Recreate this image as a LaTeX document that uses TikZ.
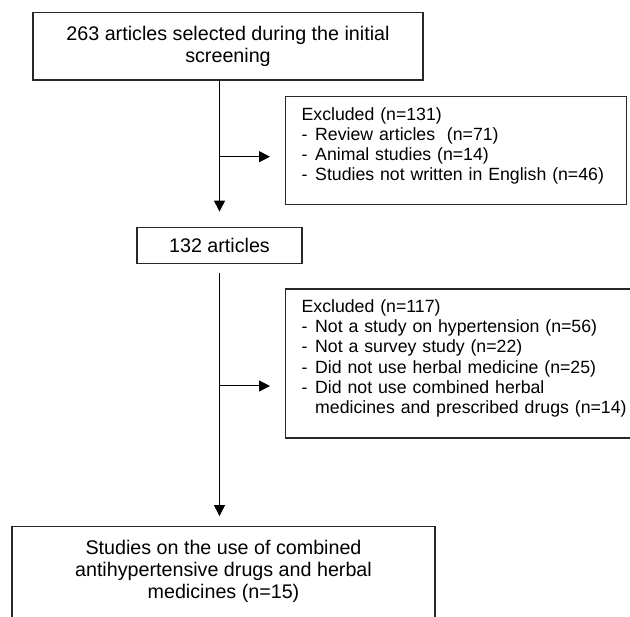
\documentclass[tikz,border=0pt]{standalone}
\usepackage{fontspec}
\setmainfont{Liberation Sans}
\usetikzlibrary{arrows.meta,positioning,calc}
\definecolor{boxline}{RGB}{40,40,40}
\tikzset{
  flowbox/.style={
    draw=boxline, line width=1.2pt,
    align=center, inner sep=0pt,
    font=\fontsize{19.7}{22}\selectfont
  },
  exclbox/.style={
    draw=boxline, line width=1.2pt,
    align=left, anchor=north west,
    inner xsep=16pt, inner ysep=0pt,
    font=\fontsize{17.7}{20.3}\selectfont
  },
  flowarrow/.style={-{Triangle[length=11pt,width=11pt]}, line width=1pt, draw=black}
}
\newcommand{\exitem}[1]{\makebox[13.6pt][l]{-}#1}

\begin{document}
\begin{tikzpicture}[x=1pt,y=1pt]
\useasboundingbox (0,0) rectangle (630,-617);
\clip (0,0) rectangle (630,-617);

% ---- screening (placed first, the column hangs off it) ----
\node[flowbox, minimum width=390pt, minimum height=67.3pt] (screen) at (228,-46.35)
  {263 articles selected during the initial\\ screening};

% ---- remaining articles ----
\node[flowbox, minimum width=165pt, minimum height=36pt, below=146pt of screen, xshift=-8.5pt] (remain)
  {132 articles};

% ---- included studies ----
\node[flowbox, minimum width=423pt, minimum height=120pt, below=262.3pt of remain, xshift=4pt] (final)
  {Studies on the use of combined\\ antihypertensive drugs and herbal\\ medicines (n=15)\rule[-35pt]{0pt}{0pt}};

% ---- exclusions ----
\node[exclbox, text width=309pt, minimum height=108pt] (exclA) at (285,-96) {
  Excluded (n=131)\\
  \exitem{Review articles\ \ (n=71)}\\
  \exitem{Animal studies (n=14)}\\
  \exitem{Studies not written in English (n=46)}\rule[-13pt]{0pt}{0pt}
};

\node[exclbox, text width=328pt, minimum height=149pt] (exclB) at (285,-288.5) {
  Excluded (n=117)\\
  \exitem{Not a study on hypertension (n=56)}\\
  \exitem{Not a survey study (n=22)}\\
  \exitem{Did not use herbal medicine (n=25)}\\
  \exitem{Did not use combined herbal}\\
  \hspace*{13.6pt}medicines and prescribed drugs (n=14)\rule[-14pt]{0pt}{0pt}
};

% ---- arrows ----
\coordinate (splitA) at (219.5,-156.7);
\coordinate (splitB) at (219.5,-386);

\draw[flowarrow, shorten >=15pt] (screen.south -| remain.north) -- (remain.north);
\draw[flowarrow, shorten <=9pt, shorten >=10pt] (remain.south) -- (remain.south |- final.north);

\draw[flowarrow, shorten >=15pt] (splitA) -- (splitA -| exclA.west);
\draw[flowarrow, shorten >=15pt] (splitB) -- (splitB -| exclB.west);

\end{tikzpicture}
\end{document}
